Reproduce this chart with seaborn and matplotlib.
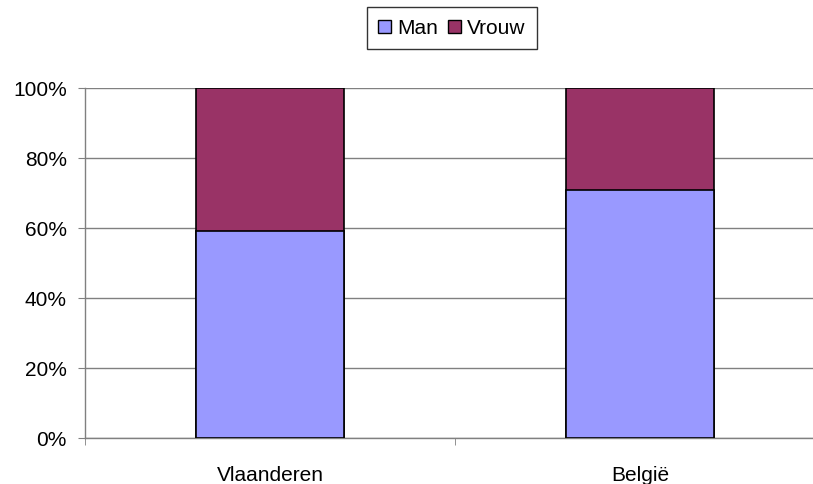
import matplotlib
matplotlib.use("Agg")
import matplotlib.pyplot as plt
import seaborn as sns
import pandas as pd
from matplotlib.patches import Patch

# Data (percent share per region)
regions = ["Vlaanderen", "België"]
man = [59.2, 70.9]
vrouw = [40.8, 29.1]

COL_MAN = "#9999FF"
COL_VROUW = "#993366"

sns.set_style("white")
plt.rcParams["font.family"] = ["Liberation Sans", "DejaVu Sans"]
plt.rcParams["text.color"] = "black"
plt.rcParams["xtick.labelcolor"] = "black"
plt.rcParams["ytick.labelcolor"] = "black"

df = pd.DataFrame({"regio": regions, "man": man, "vrouw": vrouw})
df["totaal"] = df["man"] + df["vrouw"]

fig = plt.figure(figsize=(8.13, 4.85), dpi=100)
ax = fig.add_axes([85 / 813, 1 - 439 / 485, 740 / 813, 350 / 485])

# stacked: draw the total in Vrouw colour, Man on top of it
sns.barplot(data=df, x="regio", y="totaal", color=COL_VROUW, width=0.4,
            edgecolor="black", linewidth=1.2, saturation=1, ax=ax, zorder=2)
sns.barplot(data=df, x="regio", y="man", color=COL_MAN, width=0.4,
            edgecolor="black", linewidth=1.2, saturation=1, ax=ax, zorder=3)

FS = 15
ax.set_xlim(-0.5, 1.5)
ax.set_ylim(0, 100)
ax.set_yticks(range(0, 101, 20))
ax.set_yticklabels([f"{v}%" for v in range(0, 101, 20)], fontsize=FS)
ax.set_xticklabels(regions, fontsize=FS)
ax.set_xlabel("")
ax.set_ylabel("")

ax.yaxis.grid(True, color="#808080", linewidth=1, zorder=0)
ax.set_axisbelow(True)
for s in ["top", "right"]:
    ax.spines[s].set_visible(False)
for s in ["left", "bottom"]:
    ax.spines[s].set_color("#808080")
    ax.spines[s].set_linewidth(1)

ax.tick_params(axis="y", which="major", left=True, length=5, color="#808080", pad=8)
ax.tick_params(axis="x", which="major", bottom=False, pad=16)
ax.set_xticks([-0.5, 0.5, 1.5], minor=True)
ax.tick_params(axis="x", which="minor", bottom=True, length=5, color="#808080")

handles = [Patch(facecolor=COL_MAN, edgecolor="black", label="Man"),
           Patch(facecolor=COL_VROUW, edgecolor="black", label="Vrouw")]
leg = fig.legend(handles=handles, loc="center", bbox_to_anchor=(452 / 813, 1 - 29 / 485),
                 ncol=2, fontsize=FS, frameon=True, fancybox=False,
                 handlelength=0.6, handleheight=0.6, handletextpad=0.3,
                 columnspacing=0.5, borderpad=0.55)
leg.get_frame().set_edgecolor("black")
leg.get_frame().set_linewidth(1)

fig.savefig("out.png", dpi=100)
